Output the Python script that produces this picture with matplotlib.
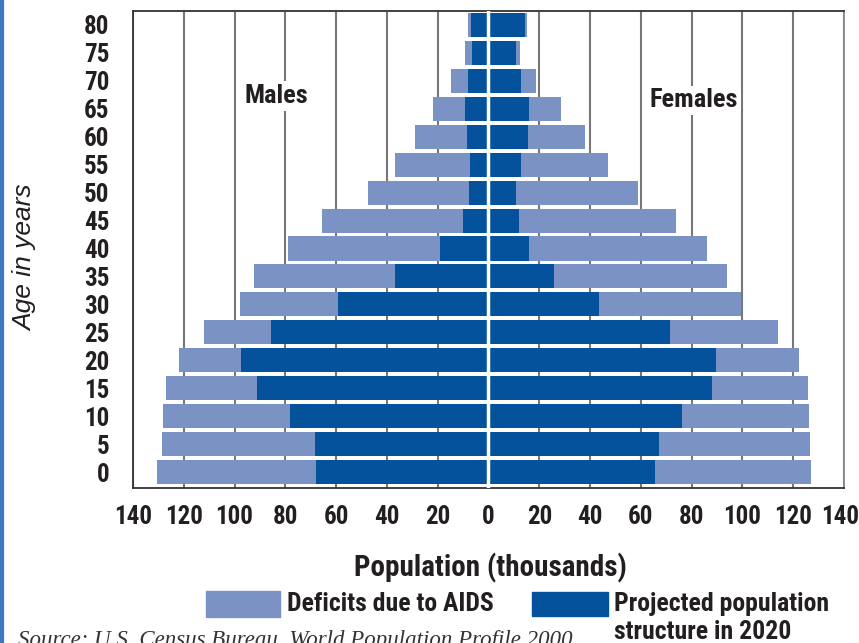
import matplotlib.pyplot as plt
import matplotlib.transforms as mtransforms
from matplotlib.patches import Rectangle
from matplotlib.lines import Line2D

# age groups (lower bound of each 5-year band)
ages = [0, 5, 10, 15, 20, 25, 30, 35, 40, 45, 50, 55, 60, 65, 70, 75, 80]

# projected 2020 population (thousands)
male_proj = [68.1, 68.5, 78.0, 91.3, 97.6, 85.8, 59.4, 37.0, 18.9, 10.2, 7.5, 7.1, 8.3, 9.4, 7.9, 6.3, 6.7]
female_proj = [65.7, 67.3, 76.4, 88.2, 89.8, 71.3, 43.7, 26.0, 16.1, 12.2, 11.0, 13.0, 15.7, 16.1, 13.0, 11.0, 14.2]

# deficits due to AIDS (thousands)
male_def = [62.6, 60.2, 50.3, 35.5, 24.4, 26.4, 38.6, 55.5, 60.2, 55.2, 40.1, 29.9, 20.8, 12.3, 6.7, 2.8, 1.2]
female_def = [61.5, 59.5, 50.0, 37.8, 32.6, 42.9, 55.9, 68.1, 70.1, 61.8, 47.7, 34.2, 22.5, 12.6, 5.9, 1.6, 0.8]

xticks = [-140, -120, -100, -80, -60, -40, -20, 0, 20, 40, 60, 80, 100, 120, 140]

light = '#7b92c4'
dark = '#03529b'
ink = '#231f20'
fnt = ['Roboto Condensed', 'DejaVu Sans']

fig = plt.figure(figsize=(8.59, 6.43), dpi=100)
ax = fig.add_axes([0.1548, 0.2411, 0.8277, 0.7418])

pos = list(range(len(ages)))
h = 0.86
ax.barh(pos, [-v for v in male_proj], height=h, color=dark, zorder=2)
ax.barh(pos, [-v for v in male_def], left=[-v for v in male_proj], height=h, color=light, zorder=2)
ax.barh(pos, female_proj, height=h, color=dark, zorder=2)
ax.barh(pos, female_def, left=female_proj, height=h, color=light, zorder=2)
ax.axvline(0, color='white', lw=2.5, zorder=3)

ax.set_xlim(-140, 140)
ax.set_ylim(-0.57, 16.5)
ax.set_xticks(xticks)
ax.set_xticklabels([str(abs(t)) for t in xticks], fontfamily=fnt, fontweight='bold', fontsize=18, color=ink)
ax.set_yticks(pos)
ax.set_yticklabels([str(a) for a in ages], fontfamily=fnt, fontweight='bold', fontsize=18, color=ink)
ax.tick_params(axis='both', length=0)
ax.tick_params(axis='y', pad=17)
ax.tick_params(axis='x', pad=12)
# nudge the last x label so it stays inside the figure
last = ax.get_xticklabels()[-1]
last.set_transform(last.get_transform() + mtransforms.ScaledTranslation(-4 / 100, 0, fig.dpi_scale_trans))
ax.grid(axis='x', color='#777777', lw=1.5, zorder=0)
for s in ax.spines.values():
    s.set_color('#333333')
    s.set_linewidth(1.3)
ax.spines['right'].set_color('#888888')

bb = dict(facecolor='white', edgecolor='none', pad=2)
ax.text(-83.5, 13.45, 'Males', fontfamily=fnt, fontweight='bold', fontsize=19, color=ink,
        ha='center', va='center', bbox=bb, zorder=4)
ax.text(81, 13.3, 'Females', fontfamily=fnt, fontweight='bold', fontsize=19, color=ink,
        ha='center', va='center', bbox=bb, zorder=4)

fig.text(25 / 859, 1 - 258 / 643, 'Age in years', rotation=90, ha='center', va='center',
         fontfamily='Liberation Sans', fontstyle='italic', fontsize=19, color=ink)
fig.text(490 / 859, 1 - 568 / 643, 'Population (thousands)', ha='center', va='center',
         fontfamily=fnt, fontweight='bold', fontsize=21, color=ink)

# legend
fig.add_artist(Rectangle((206 / 859, 1 - 617 / 643), 74 / 859, 26 / 643, color=light, transform=fig.transFigure))
fig.text(287 / 859, 1 - 604 / 643, 'Deficits due to AIDS', ha='left', va='center',
         fontfamily=fnt, fontweight='bold', fontsize=18.5, color=ink)
fig.add_artist(Rectangle((532 / 859, 1 - 616 / 643), 76 / 859, 24 / 643, color=dark, transform=fig.transFigure))
fig.text(614 / 859, 1 - 604 / 643, 'Projected population', ha='left', va='center',
         fontfamily=fnt, fontweight='bold', fontsize=18.5, color=ink)
fig.text(614 / 859, 1 - 632 / 643, 'structure in 2020', ha='left', va='center',
         fontfamily=fnt, fontweight='bold', fontsize=18.5, color=ink)

fig.text(18 / 859, 1 - 646 / 643, 'Source: U.S. Census Bureau, World Population Profile 2000',
         ha='left', va='baseline', fontfamily='Liberation Serif', fontstyle='italic', fontsize=16.5, color='#333333')

fig.add_artist(Line2D([1.5 / 859, 1.5 / 859], [0, 1], color='#3d78c0', lw=3, transform=fig.transFigure))

fig.savefig('out.png', dpi=100)
